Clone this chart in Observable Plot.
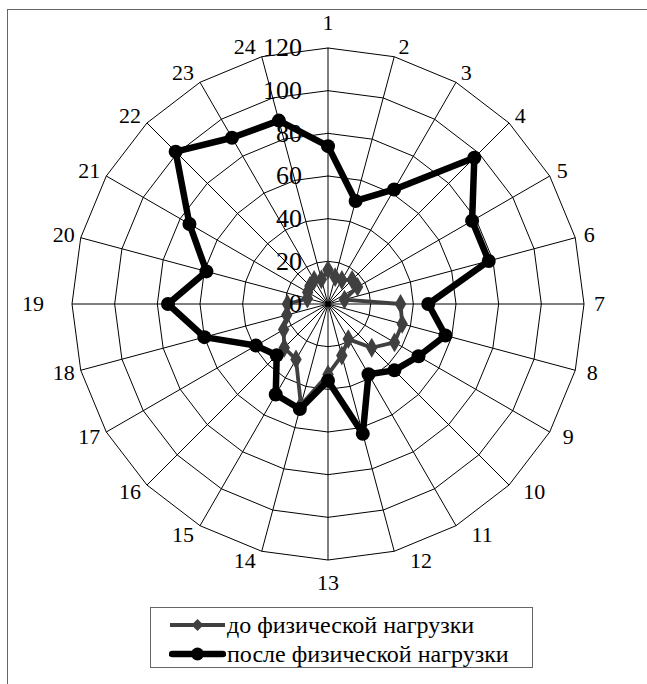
<!DOCTYPE html>
<html><head><meta charset="utf-8">
<script src="https://cdn.jsdelivr.net/npm/d3@7"></script>
<script src="https://cdn.jsdelivr.net/npm/@observablehq/plot@0.6"></script>
<style>
body{margin:0;background:#fff;}
#wrap{position:relative;width:647px;height:684px;overflow:hidden;}
#frame{position:absolute;left:7px;top:9px;width:700px;height:700px;border-left:1.5px solid #666;border-top:1.5px solid #666;}
#chart{position:absolute;left:0;top:0;}
#legend{position:absolute;left:150px;top:607px;width:383px;height:61px;border:1.5px solid #666;box-sizing:border-box;background:#fff;font-family:"Liberation Serif","Times New Roman",serif;font-size:24px;color:#000;}
.row{position:absolute;left:0;height:30px;display:flex;align-items:center;white-space:nowrap;}
.row svg{margin-left:18px;margin-right:1px;}
</style></head><body>
<div id="wrap"><div id="frame"></div><div id="chart"></div><div id="legend"></div></div>
<script>
const categories = ["1","2","3","4","5","6","7","8","9","10","11","12","13","14","15","16","17","18","19","20","21","22","23","24"];
const beforeValues = [16,13,13,16,16,8,34,36,36,29,19,25,33,49,30,29,24,20,19,10,11,12,13,12];
const afterValues = [74,50,62,97,78,78,47,57,49,44,38,63,36,51,49,34,39,60,75,59,75,101,90,89];
const ringTicks = [0,20,40,60,80,100,120];
const seriesNames = ["до физической нагрузки","после физической нагрузки"];
const seriesColors = ["#404040","#000000"];

const W = 647, H = 684, cx = 327.5, cy = 303.5, R = 256, vMax = 120;
const k = R / vMax;
const n = categories.length;
const ang = i => i * 2 * Math.PI / n;
const pt = (v, i) => ({x: v * Math.sin(ang(i)), y: v * Math.cos(ang(i))});

const rings = [];
ringTicks.filter(t => t > 0).forEach(t => {
  for (let i = 0; i <= n; i++) rings.push({t, ...pt(t, i % n)});
});
const spokes = categories.map((c, i) => ({x1: 0, y1: 0, ...pt(vMax, i)}));

const closed = vals => vals.map((v, i) => ({i, ...pt(v, i)})).concat([{i: n, ...pt(vals[0], 0)}]);
const beforePts = closed(beforeValues);
const afterPts = closed(afterValues);

// category labels: text box placed next to the outer vertex (Excel-like placement)
const fs = 22, rfs = 26;
const labels = categories.map((c, i) => {
  const s = Math.sin(ang(i)), co = Math.cos(ang(i));
  const w = c.length * fs * 0.5, h = fs * 0.95;
  const v = pt(vMax, i);
  let ox, oy; // pixel offsets, screen y downward
  if (Math.abs(s) < 0.01) {
    ox = 0; oy = co > 0 ? -(h / 2 + 15) : (h / 2 + 13);
  } else if (s > 0) {
    ox = w / 2 + (10 - 6 * co); oy = -10.5 * co;
  } else {
    ox = -(w / 2 + (Math.abs(co) < 0.01 ? 28 : 6)); oy = -10.5 * co;
  }
  return {c, x: v.x + ox / k, y: v.y - oy / k};
});

const chart = Plot.plot({
  width: W, height: H, margin: 0,
  x: {domain: [-cx / k, (W - cx) / k], range: [0, W], axis: null},
  y: {domain: [-(H - cy) / k, cy / k], range: [H, 0], axis: null},
  style: {fontFamily: "'Liberation Serif', 'Times New Roman', serif", background: "transparent"},
  marks: [
    Plot.line(rings, {x: "x", y: "y", z: "t", stroke: "#000", strokeWidth: 1, curve: "linear"}),
    Plot.link(spokes, {x1: "x1", y1: "y1", x2: "x", y2: "y", stroke: "#000", strokeWidth: 1}),
    Plot.line(beforePts, {x: "x", y: "y", stroke: seriesColors[0], strokeWidth: 3.8, strokeLinejoin: "round"}),
    Plot.dot(beforePts.slice(0, n), {x: "x", y: "y", symbol: "diamond", r: 6, fill: seriesColors[0], stroke: "none"}),
    Plot.line(afterPts, {x: "x", y: "y", stroke: seriesColors[1], strokeWidth: 6.5, strokeLinejoin: "round"}),
    Plot.dot(afterPts.slice(0, n), {x: "x", y: "y", r: 7, fill: seriesColors[1], stroke: "none"}),
    Plot.text(ringTicks, {x: 0, y: d => d, text: d => String(d), dx: -26, textAnchor: "end", fontSize: rfs, fill: "#000"}),
    Plot.text(labels, {x: "x", y: "y", text: "c", textAnchor: "middle", lineAnchor: "middle", fontSize: fs, fill: "#000"})
  ]
});
document.getElementById("chart").appendChild(chart);

const legend = document.getElementById("legend");
seriesNames.forEach((name, j) => {
  const row = document.createElement("div");
  row.className = "row";
  row.style.top = (2 + j * 29) + "px";
  const sw = j === 0
    ? `<svg width="57" height="16"><line x1="1" y1="8" x2="56" y2="8" stroke="${seriesColors[0]}" stroke-width="3.8"/><path d="M28.5,2L34.5,8L28.5,14L22.5,8Z" fill="${seriesColors[0]}"/></svg>`
    : `<svg width="57" height="16"><line x1="3" y1="8" x2="54" y2="8" stroke="${seriesColors[1]}" stroke-width="6.5" stroke-linecap="round"/><circle cx="28.5" cy="8" r="6.5" fill="${seriesColors[1]}"/></svg>`;
  row.innerHTML = sw + `<span>${name}</span>`;
  legend.appendChild(row);
});
</script>
</body></html>
